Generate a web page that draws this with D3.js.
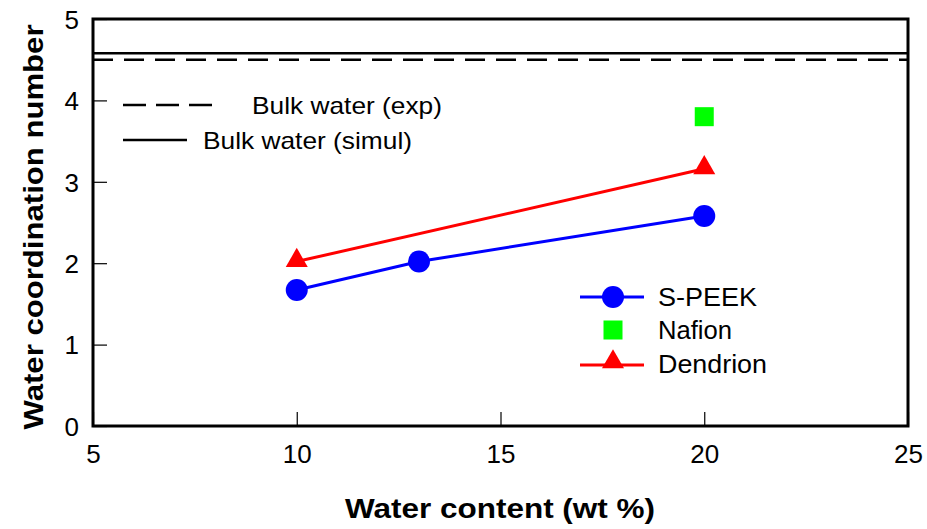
<!DOCTYPE html>
<html>
<head>
<meta charset="utf-8">
<script src="https://cdn.jsdelivr.net/npm/d3@7/dist/d3.min.js"></script>
<style>
  body { margin: 0; background: #fff; }
  svg { display: block; font-family: "Liberation Sans", Arial, Helvetica, sans-serif; }
</style>
</head>
<body>
<svg id="chart" width="927" height="529"></svg>
<script>
// Water coordination number vs water content
const xTicks = [5, 10, 15, 20, 25];
const yTicks = [0, 1, 2, 3, 4, 5];

const speekX = [10, 13, 20];
const speekY = [1.67, 2.02, 2.58];
const nafionX = [20];
const nafionY = [3.8];
const dendrionX = [10, 20];
const dendrionY = [2.02, 3.16];

const bulkExp = 4.5;
const bulkSimul = 4.58;

const svg = d3.select("#chart");
const margin = { left: 93, right: 19, top: 19, bottom: 103 };
const W = 927, H = 529;

const x = d3.scaleLinear().domain([5, 25]).range([margin.left, W - margin.right]);
const y = d3.scaleLinear().domain([0, 5]).range([H - margin.bottom, margin.top]);

// Stretch a text element to a given rendered width
function fit(sel, w) {
  sel.attr("textLength", w).attr("lengthAdjust", "spacingAndGlyphs");
  return sel;
}

// Axes with inward ticks
const xAxis = d3.axisBottom(x).tickValues(xTicks).tickSize(-14).tickPadding(19).tickFormat(d3.format("d"));
const yAxis = d3.axisLeft(y).tickValues(yTicks).tickSize(-14).tickPadding(14).tickFormat(d3.format("d"));

const gx = svg.append("g").attr("transform", `translate(0,${y(0)})`).call(xAxis);
const gy = svg.append("g").attr("transform", `translate(${x(5)},0)`).call(yAxis);
[gx, gy].forEach(g => {
  g.select(".domain").remove();
  g.selectAll(".tick line").attr("stroke", "#000").attr("stroke-width", 1.2);
  g.selectAll(".tick text").attr("fill", "#000").style("font-size", "26px");
});
gy.selectAll(".tick text").attr("dy", "0.36em");

// Bulk water reference lines
svg.append("line")
  .attr("x1", x(5)).attr("x2", x(25)).attr("y1", y(bulkExp)).attr("y2", y(bulkExp))
  .attr("stroke", "#000").attr("stroke-width", 2.5).attr("stroke-dasharray", "20,11");
svg.append("line")
  .attr("x1", x(5)).attr("x2", x(25)).attr("y1", y(bulkSimul)).attr("y2", y(bulkSimul))
  .attr("stroke", "#000").attr("stroke-width", 2.5);

// Frame
svg.append("rect")
  .attr("x", x(5)).attr("y", y(5)).attr("width", x(25) - x(5)).attr("height", y(0) - y(5))
  .attr("fill", "none").attr("stroke", "#000").attr("stroke-width", 3);

const line = d3.line().x(d => x(d[0])).y(d => y(d[1]));
const speek = speekX.map((v, i) => [v, speekY[i]]);
const dendrion = dendrionX.map((v, i) => [v, dendrionY[i]]);
const nafion = nafionX.map((v, i) => [v, nafionY[i]]);

const triangle = d3.symbol().type(d3.symbolTriangle).size(210);

// Dendrion
svg.append("path").datum(dendrion).attr("d", line)
  .attr("fill", "none").attr("stroke", "#ff0000").attr("stroke-width", 3);
svg.selectAll(".tri").data(dendrion).join("path")
  .attr("transform", d => `translate(${x(d[0])},${y(d[1]) - 1})`)
  .attr("d", triangle).attr("fill", "#ff0000");

// S-PEEK
svg.append("path").datum(speek).attr("d", line)
  .attr("fill", "none").attr("stroke", "#0000ff").attr("stroke-width", 3);
svg.selectAll(".dot").data(speek).join("circle")
  .attr("cx", d => x(d[0])).attr("cy", d => y(d[1])).attr("r", 11).attr("fill", "#0000ff");

// Nafion
svg.selectAll(".sq").data(nafion).join("rect")
  .attr("x", d => x(d[0]) - 9.5).attr("y", d => y(d[1]) - 9.5)
  .attr("width", 19).attr("height", 19).attr("fill", "#00ff00");

// Legend: bulk water
svg.append("line").attr("x1", 123).attr("x2", 212).attr("y1", 105).attr("y2", 105)
  .attr("stroke", "#000").attr("stroke-width", 2.5).attr("stroke-dasharray", "23,10");
fit(svg.append("text").attr("x", 252).attr("y", 114).text("Bulk water (exp)")
  .style("font-size", "24px").attr("fill", "#000"), 190);
svg.append("line").attr("x1", 123).attr("x2", 187).attr("y1", 140).attr("y2", 140)
  .attr("stroke", "#000").attr("stroke-width", 2.5);
fit(svg.append("text").attr("x", 203).attr("y", 149).text("Bulk water (simul)")
  .style("font-size", "24px").attr("fill", "#000"), 209);

// Legend: series
const lx1 = 580, lx2 = 644, lm = 613, tx = 658;
svg.append("line").attr("x1", lx1).attr("x2", lx2).attr("y1", 297).attr("y2", 297)
  .attr("stroke", "#0000ff").attr("stroke-width", 3);
svg.append("circle").attr("cx", lm).attr("cy", 297).attr("r", 11).attr("fill", "#0000ff");
fit(svg.append("text").attr("x", tx).attr("y", 306).text("S-PEEK").style("font-size", "25px"), 99);

svg.append("rect").attr("x", lm - 9.5).attr("y", 320.5).attr("width", 19).attr("height", 19).attr("fill", "#00ff00");
fit(svg.append("text").attr("x", tx).attr("y", 339).text("Nafion").style("font-size", "25px"), 74);

svg.append("line").attr("x1", lx1).attr("x2", lx2).attr("y1", 365).attr("y2", 365)
  .attr("stroke", "#ff0000").attr("stroke-width", 3);
svg.append("path").attr("transform", `translate(${lm},${362})`).attr("d", triangle).attr("fill", "#ff0000");
fit(svg.append("text").attr("x", tx).attr("y", 373).text("Dendrion").style("font-size", "25px"), 109);

// Axis titles
fit(svg.append("text").attr("x", 500).attr("y", 518).attr("text-anchor", "middle")
  .style("font-size", "28px").style("font-weight", "bold").text("Water content (wt %)"), 310);
fit(svg.append("text").attr("transform", `translate(43,227) rotate(-90)`)
  .attr("text-anchor", "middle").style("font-size", "28px").style("font-weight", "bold")
  .text("Water coordination number"), 405);
</script>
</body>
</html>
